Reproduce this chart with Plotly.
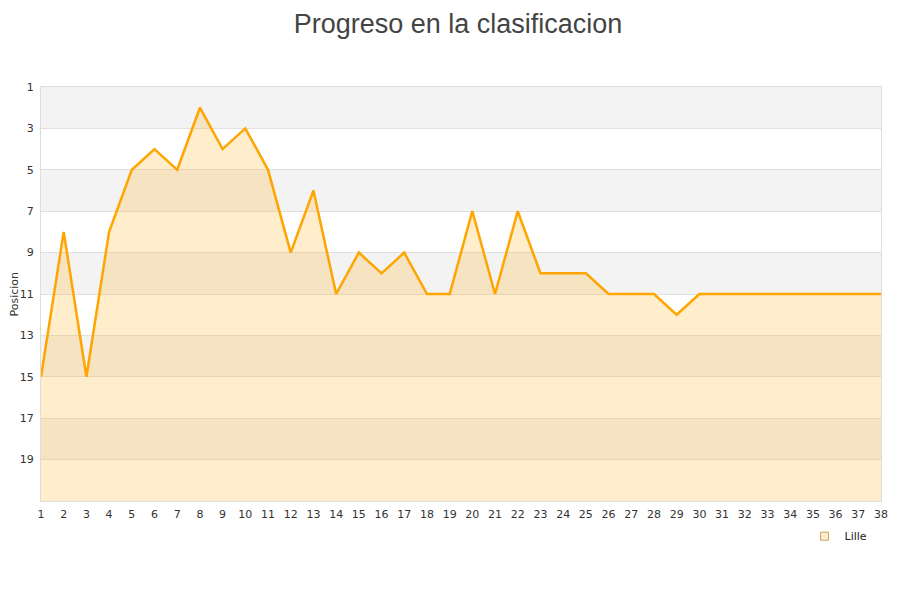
import plotly.graph_objects as go

# jornadas y posicion del Lille
jornadas = list(range(1, 39))
posicion = [15, 8, 15, 8, 5, 4, 5, 2, 4, 3,
            5, 9, 6, 11, 9, 10, 9, 11, 11, 7,
            11, 7, 10, 10, 10, 11, 11, 11, 12, 11,
            11, 11, 11, 11, 11, 11, 11, 11]
equipo = "Lille"
y_ticks = [1, 3, 5, 7, 9, 11, 13, 15, 17, 19]
fondo = 21

fig = go.Figure()

# linea base para rellenar hacia abajo (eje invertido)
fig.add_trace(go.Scatter(
    x=jornadas, y=[fondo] * len(jornadas),
    mode="lines", line=dict(width=0), hoverinfo="skip", showlegend=False
))
fig.add_trace(go.Scatter(
    x=jornadas, y=posicion, mode="lines", name=equipo,
    line=dict(color="#ffa500", width=2.5),
    fill="tonexty", fillcolor="rgba(255,165,0,0.2)",
    showlegend=False
))
# entrada de leyenda
fig.add_trace(go.Scatter(
    x=[None], y=[None], mode="markers", name=equipo,
    marker=dict(symbol="square", size=8, color="#ffedcc",
                line=dict(color="#c8a060", width=1))
))

# bandas grises alternas
for lo in y_ticks[::2]:
    fig.add_shape(type="rect", xref="paper", x0=0, x1=1, yref="y",
                  y0=lo, y1=lo + 2, fillcolor="#f3f3f3", line=dict(width=0),
                  layer="below")

# titulo del eje y como anotacion para no pisar las etiquetas
fig.add_annotation(text="Posicion", xref="paper", yref="paper",
                   x=-27.5 / 840, y=0.5, xanchor="center", yanchor="middle",
                   textangle=-90, showarrow=False, borderpad=0,
                   font=dict(size=11, color="#333"))

fig.update_layout(
    width=900, height=600,
    paper_bgcolor="white", plot_bgcolor="white",
    margin=dict(l=33, r=27, t=79, b=107),
    font=dict(family="DejaVu Sans", size=11, color="#333"),
    title=dict(text="Progreso en la clasificacion", x=0.5, xanchor="center",
               y=0.99, yanchor="top", pad=dict(t=0),
               font=dict(family="Liberation Sans", size=27, color="#444")),
    legend=dict(x=0.909, y=-0.085, xanchor="left", yanchor="middle",
                bgcolor="rgba(0,0,0,0)", font=dict(size=11, color="#222")),
    xaxis=dict(range=[1, 38], tickvals=jornadas, showgrid=False,
               zeroline=False, showline=True, linecolor="#ddd", mirror=True,
               ticks="", ticklabelstandoff=3, automargin=False,
               tickfont=dict(size=11, color="#333")),
    yaxis=dict(range=[fondo, 1], tickvals=y_ticks, showgrid=True,
               gridcolor="#e0e0e0", zeroline=False, showline=True,
               linecolor="#ddd", mirror=True, ticks="", automargin=False,
               ticklabelstandoff=4,
               tickfont=dict(size=11, color="#333")),
)

fig.write_html("out.html")
